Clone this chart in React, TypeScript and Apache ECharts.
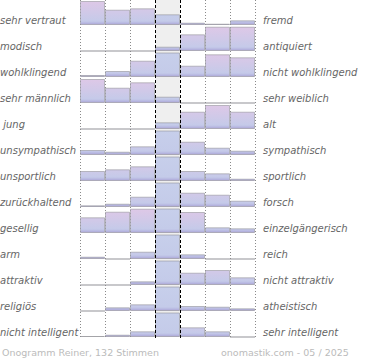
import React, { useEffect, useRef } from "react";
import * as echarts from "echarts";

const leftLabels = [
  "sehr vertraut", "modisch", "wohlklingend", "sehr männlich", " jung",
  "unsympathisch", "unsportlich", "zurückhaltend", "gesellig", "arm",
  "attraktiv", "religiös", "nicht intelligent",
];
const rightLabels = [
  "fremd", "antiquiert", "nicht wohlklingend", "sehr weiblich", "alt",
  "sympathisch", "sportlich", "forsch", "einzelgängerisch", "reich",
  "nicht attraktiv", "atheistisch", "sehr intelligent",
];
const columns = ["1", "2", "3", "4", "5", "6", "7"];
const values = [
  [24, 15.3, 16.7, 10.7, 2.3, 1.3, 4.7],
  [0, 0, 0, 4.3, 16.7, 24.3, 24.3],
  [2, 6, 16.3, 24.5, 11.3, 22.7, 19.7],
  [24, 15.3, 20.7, 6.3, 0, 0, 0],
  [0, 0, 0, 6.7, 17.3, 24, 17.3],
  [5, 3.3, 8.7, 24.5, 13.3, 7.3, 4.3],
  [10, 11.7, 14.7, 24.5, 10, 7.7, 2.3],
  [1.7, 3.3, 10.3, 24.5, 14.3, 12.3, 6.3],
  [15.7, 21.3, 24.3, 24.5, 21, 5.7, 4.7],
  [2.3, 0, 7.3, 24.5, 4.7, 0, 0],
  [0, 0, 3.7, 24.5, 12.3, 15, 7.7],
  [0, 3.7, 6.7, 24.5, 5, 4.3, 2.7],
  [1, 2.3, 5.7, 24.5, 9.7, 5.7, 0],
];
const footerLeft = "Onogramm Reiner, 132 Stimmen";
const footerRight = "onomastik.com - 05 / 2025";

const ROW = 26;
const LEFT = 80;
const WIDTH = 175;
const MID = 3;

export default function App() {
  const ref = useRef<HTMLDivElement>(null);
  useEffect(() => {
    if (!ref.current) return;
    const chart = echarts.init(ref.current, undefined, { renderer: "svg" });
    const n = values.length;
    const bottomY = ROW * (n - 1) + 25;

    const sideGrad = (i: number) =>
      new echarts.graphic.LinearGradient(0, ROW * i, 0, ROW * i + 25, [
        { offset: 0, color: "#dfc8e7" },
        { offset: 0.5, color: "#d0c9e8" },
        { offset: 0.84, color: "#c5cae9" },
        { offset: 0.93, color: "#b6b6e0" },
        { offset: 1, color: "#a092cd" },
      ], true);
    const midGrad = (i: number) =>
      new echarts.graphic.LinearGradient(0, ROW * i, 0, ROW * i + 25, [
        { offset: 0, color: "#c7cfeb" },
        { offset: 0.84, color: "#c4cbe9" },
        { offset: 0.93, color: "#b6b6e0" },
        { offset: 1, color: "#a092cd" },
      ], true);

    const graphics: any[] = [];
    graphics.push({
      type: "rect", z: -10,
      shape: { x: LEFT + 75, y: 0, width: 25, height: bottomY },
      style: { fill: "#efefef" },
    });
    [0, 1, 2, 5, 6, 7].forEach((k) => {
      const x = LEFT + 25 * k + 0.5;
      graphics.push({
        type: "line", z: -5,
        shape: { x1: x, y1: 0, x2: x, y2: bottomY + 2 },
        style: { stroke: "#8a8a8a", lineWidth: 1, lineDash: [1, 2] },
      });
    });
    [3, 4].forEach((k) => {
      const x = LEFT + 25 * k + 0.5;
      graphics.push({
        type: "line", z: 50,
        shape: { x1: x, y1: 0, x2: x, y2: bottomY + 2 },
        style: { stroke: "#000", lineWidth: 1, lineDash: [3, 2] },
      });
    });
    leftLabels.forEach((t, i) => {
      graphics.push({
        type: "text", z: 50, x: 0, y: ROW * i + 20,
        style: {
          text: t, fill: "#666", font: 'italic 10px "DejaVu Sans"',
          textAlign: "left", textVerticalAlign: "middle",
        },
      });
    });
    rightLabels.forEach((t, i) => {
      graphics.push({
        type: "text", z: 50, x: 263, y: ROW * i + 20,
        style: {
          text: t, fill: "#666", font: 'italic 10px "DejaVu Sans"',
          textAlign: "left", textVerticalAlign: "middle",
        },
      });
    });
    graphics.push({
      type: "text", z: 50, x: 2, y: 352,
      style: { text: footerLeft, fill: "#bbbbbb", font: '9.5px "DejaVu Sans"', textAlign: "left", textVerticalAlign: "middle" },
    });
    graphics.push({
      type: "text", z: 50, x: 221, y: 352,
      style: { text: footerRight, fill: "#bbbbbb", font: '9.5px "DejaVu Sans"', textAlign: "left", textVerticalAlign: "middle" },
    });

    chart.setOption({
      animation: false,
      grid: values.map((_, i) => ({ left: LEFT, width: WIDTH, top: ROW * i, height: 25 })),
      xAxis: values.map((_, i) => ({
        type: "category", gridIndex: i, data: columns, z: 20,
        axisLine: {
          show: true,
          lineStyle: { color: "#000", width: 2, shadowColor: "rgba(0,0,0,0.3)", shadowOffsetY: 1.5, shadowBlur: 1 },
        },
        axisTick: { show: false }, axisLabel: { show: false }, splitLine: { show: false },
      })),
      yAxis: values.map((_, i) => ({ type: "value", gridIndex: i, min: 0, max: 25, show: false })),
      series: values.map((row, i) => ({
        type: "bar", xAxisIndex: i, yAxisIndex: i, barCategoryGap: "0%", z: 2,
        itemStyle: { borderColor: "rgba(140,140,145,0.55)", borderWidth: 1 },
        data: row.map((v, j) => ({ value: v, itemStyle: { color: j === MID ? midGrad(i) : sideGrad(i) } })),
      })),
      graphic: graphics,
    });
    return () => chart.dispose();
  }, []);
  return <div ref={ref} style={{ position: "fixed", left: 0, top: 0, width: 370, height: 360, background: "#fff" }} />;
}
